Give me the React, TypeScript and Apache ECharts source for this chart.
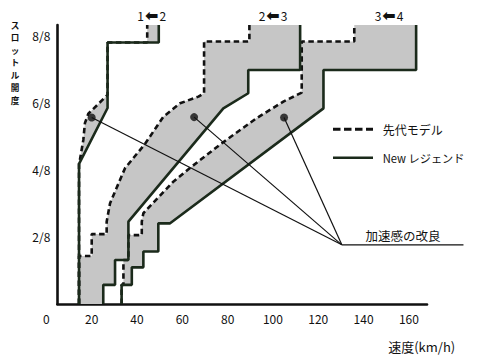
import React, { useEffect, useRef } from 'react';
import * as echarts from 'echarts';

// ---- data (speed km/h, throttle in eighths) ----
const xTickLabels = ['0', '20', '40', '60', '80', '100', '120', '140', '160'];
const yTickLabels = ['', '2/8', '4/8', '6/8', '8/8'];
const shiftFrom = ['1', '2', '3'];
const shiftTo = ['2', '3', '4'];
const legendNames = ['先代モデル', 'New レジェンド'];
const noteText = '加速感の改良';
const yName = 'スロットル開度';
const xName = '速度(km/h)';

// New Legend (solid) shift lines
const newA = [[14.4, 0], [14.4, 4.17], [27.0, 5.83], [27.0, 7.78], [49.6, 7.78], [49.6, 8.3]];
const newB = [[25.1, 0], [25.1, 0.57], [30.3, 0.57], [30.3, 1.31], [36.2, 1.31], [36.2, 2.45], [78.1, 5.82], [89.1, 6.27], [89.1, 6.96], [112.0, 6.96], [112.0, 8.3]];
const newC = [[33.2, 0], [33.2, 0.57], [37.7, 0.57], [37.7, 1.09], [42.8, 1.09], [42.8, 1.56], [49.4, 1.56], [49.4, 2.40], [54.6, 2.40], [122.3, 5.82], [122.3, 6.96], [163.2, 6.96], [163.2, 8.3]];

// Previous model (dashed) shift lines
const oldA = [[14.4, 0], [14.4, 4.17], [14.8, 4.29], [16.3, 4.88], [17.0, 5.38], [18.5, 5.66], [27.0, 6.22], [27.0, 7.78], [44.5, 7.78], [44.5, 8.3]];
const oldB = [[14.4, 0], [14.4, 1.43], [20.0, 1.43], [20.0, 2.08], [26.6, 2.08], [26.6, 2.45], [28.1, 3.0], [34.7, 4.04], [43.5, 4.76], [51.6, 5.57], [59.0, 5.97], [67.1, 6.17], [69.6, 6.27], [69.6, 7.81], [89.6, 7.81], [89.6, 8.3]];
const oldC = [[33.2, 0], [33.2, 0.57], [34.0, 0.57], [34.0, 1.31], [36.2, 1.31], [36.2, 2.05], [42.1, 2.05], [42.1, 2.45], [42.8, 2.70], [56.0, 3.64], [64.2, 4.09], [77.0, 4.76], [92.8, 5.53], [104.6, 6.02], [112.7, 6.29], [112.7, 7.81], [135.9, 7.81], [135.9, 8.3]];

const dots = [[20.0, 5.55], [65.2, 5.56], [104.9, 5.55]];
const leaderEnd = [130.4, 1.76];
const leaderTail = [184.1, 1.76];

const FONT = '"Noto Sans CJK JP", "Noto Sans", sans-serif';
const INK = '#111';
const SOLID = '#1b2a1b';
const FILL = '#c6c6c6';

export default function App() {
  const ref = useRef<HTMLDivElement>(null);
  useEffect(() => {
    if (!ref.current) return;
    const chart = echarts.init(ref.current, null, { renderer: 'svg' });
    const bands = [
      newA.concat(oldA.slice().reverse()),
      newB.concat(oldB.slice().reverse()),
      newC.concat(oldC.slice().reverse()),
    ];
    const lineSeries = (data: number[][], dashed: boolean, z: number) => ({
      type: 'line',
      data,
      xAxisIndex: 0,
      yAxisIndex: 0,
      symbol: 'none',
      showSymbol: false,
      silent: true,
      clip: false,
      z,
      lineStyle: dashed
        ? { color: INK, width: 2.6, type: [5.5, 3.5], cap: 'butt' }
        : { color: SOLID, width: 2.6, type: 'solid' },
    });
    const leaders = dots.map((d) => [d, leaderEnd]);
    const yNameChars = yName.split('');
    const option: any = {
      animation: false,
      backgroundColor: '#fff',
      grid: [
        { left: 46.4, right: 53, top: 25, bottom: 57 },
        { left: 57.4, right: 53, top: 25, bottom: 57 },
      ],
      xAxis: [
        {
          type: 'value', gridIndex: 0, min: 0, max: 168, interval: 20,
          axisLine: { show: false }, axisTick: { show: false }, splitLine: { show: false },
          axisLabel: {
            color: INK, fontSize: 12, fontFamily: FONT, margin: 8,
            formatter: (v: number) => (v % 20 === 0 && v <= 160 ? xTickLabels[v / 20] : ''),
          },
        },
        {
          type: 'value', gridIndex: 1, min: 0, max: 1,
          axisLine: { show: true, lineStyle: { color: INK, width: 2.6 } },
          axisTick: { show: false }, axisLabel: { show: false }, splitLine: { show: false },
        },
      ],
      yAxis: [
        {
          type: 'value', gridIndex: 0, min: 0, max: 8.3, interval: 2, offset: -11,
          axisLine: { show: true, lineStyle: { color: INK, width: 2.6 } },
          axisTick: { show: false }, splitLine: { show: false },
          axisLabel: {
            color: INK, fontSize: 12, fontFamily: FONT, margin: 7,
            formatter: (v: number) => (v % 2 === 0 && v <= 8 ? yTickLabels[v / 2] : ''),
          },
        },
        { type: 'value', gridIndex: 1, min: 0, max: 1, show: false },
      ],
      series: [
        {
          type: 'custom',
          xAxisIndex: 0,
          yAxisIndex: 0,
          silent: true,
          clip: false,
          z: 1,
          data: bands.map((_, i) => [i, 0]),
          renderItem: (params: any, api: any) => {
            const pts = bands[params.dataIndex].map((p) => api.coord(p));
            return { type: 'polygon', shape: { points: pts }, style: { fill: FILL, stroke: 'none' } };
          },
        },
        lineSeries(oldA, true, 3),
        lineSeries(oldB, true, 3),
        lineSeries(oldC, true, 3),
        lineSeries(newA, false, 4),
        lineSeries(newB, false, 4),
        lineSeries(newC, false, 4),
        ...leaders.map((seg) => ({
          type: 'line', data: seg, xAxisIndex: 0, yAxisIndex: 0, symbol: 'none', silent: true, clip: false, z: 5,
          lineStyle: { color: INK, width: 1.2 },
        })),
        {
          type: 'scatter', data: dots, xAxisIndex: 0, yAxisIndex: 0, symbol: 'circle', symbolSize: 8,
          itemStyle: { color: INK }, silent: true, z: 6,
        },
      ],
      graphic: [
        ...yNameChars.map((c, i) => ({
          type: 'text', x: 15, y: 24.5 + i * 12.5,
          style: { text: c, fontSize: 8.6, fontWeight: 'bold', fill: INK, fontFamily: FONT, align: 'center', verticalAlign: 'middle' },
        })),
        ...shiftFrom.map((t, i) => ({
          type: 'text', x: [151.7, 273, 389][i], y: 15,
          style: {
            text: `{n|${t}}{a|⬅}{n|${shiftTo[i]}}`,
            align: 'center', verticalAlign: 'middle',
            rich: {
              n: { fontSize: 12, fill: INK, fontFamily: FONT, padding: [0, 1, 0, 1] },
              a: { fontSize: 16, fill: INK, fontFamily: '"DejaVu Sans", sans-serif', fontWeight: 'bold' },
            },
          },
        })),
        { type: 'line', shape: { x1: 333, y1: 129.3, x2: 373, y2: 129.3 }, style: { stroke: INK, lineWidth: 3, lineDash: [7.5, 3.5] } },
        { type: 'text', x: 382.7, y: 129.3, style: { text: legendNames[0], fontSize: 12, fill: INK, fontFamily: FONT, verticalAlign: 'middle' } },
        { type: 'line', shape: { x1: 333, y1: 157.7, x2: 373, y2: 157.7 }, style: { stroke: SOLID, lineWidth: 2.6 } },
        { type: 'text', x: 382.7, y: 157.7, style: { text: legendNames[1], fontSize: 11.2, fill: INK, fontFamily: FONT, verticalAlign: 'middle' } },
        { type: 'text', x: 403, y: 235, style: { text: noteText, fontSize: 12.5, fill: INK, fontFamily: FONT, align: 'center', verticalAlign: 'middle' } },
        { type: 'text', x: 421.7, y: 346.7, style: { text: xName, fontSize: 13, fill: INK, fontFamily: FONT, align: 'center', verticalAlign: 'middle' } },
      ],
    };
    chart.setOption(option);
    // Underline of the annotation, placed through the data scale (extends past the axis end)
    const p0 = chart.convertToPixel({ gridIndex: 0 }, leaderEnd) as number[];
    const p1 = chart.convertToPixel({ gridIndex: 0 }, leaderTail) as number[];
    chart.setOption({
      graphic: [
        ...option.graphic,
        { type: 'line', shape: { x1: p0[0], y1: p0[1], x2: p1[0], y2: p1[1] }, style: { stroke: INK, lineWidth: 1.2 }, z: 5 },
      ],
    });
    return () => chart.dispose();
  }, []);
  return <div ref={ref} style={{ position: 'fixed', left: 0, top: 0, width: 480, height: 361 }} />;
}
